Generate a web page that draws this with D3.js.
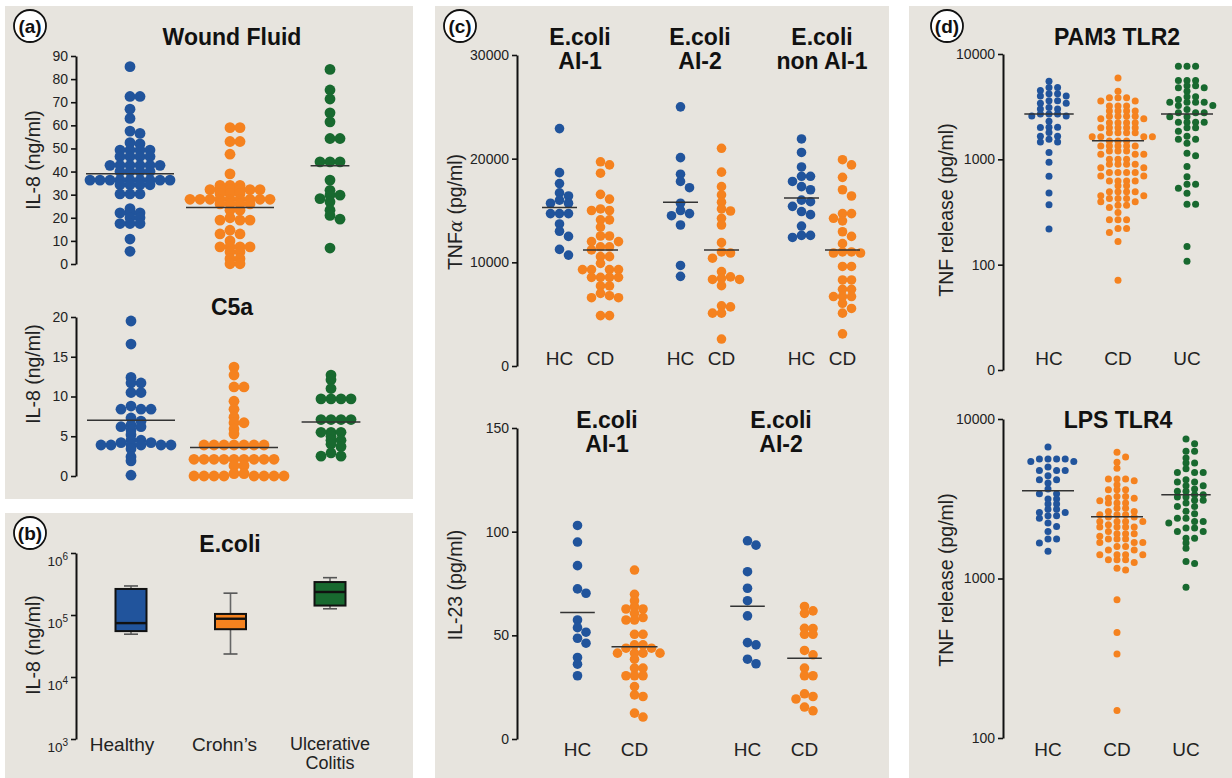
<!DOCTYPE html>
<html><head><meta charset="utf-8">
<script src="https://cdn.jsdelivr.net/npm/d3@7"></script>
<style>body{margin:0;background:#fff;} svg{display:block;font-family:"Liberation Sans",Arial,sans-serif;}</style>
</head><body><svg id="c" width="1232" height="778"></svg>
<script>
// ---------- DATA ----------
const groupNames = ["HC", "CD", "UC"];
// (a) Wound fluid IL-8 (ng/ml)
const woundTicks = [0,10,20,30,40,50,60,70,80,90];
const woundHC = [85.4,72.5,72.5,67,63,57.5,56.5,52.5,52,49.3,49.3,49.3,49.3,46.5,46.5,46.5,46.5,42.7,42.7,42.7,42.7,42.7,42.7,40,40,40,40,36.3,36.3,36.3,36.3,36.3,36.3,36.3,36.3,36.3,34.3,34.3,34.3,34.3,30.3,30.3,30.3,24,22.1,22.1,22.1,20,20,17.5,17.5,17.5,10.8,5.5];
const woundCD = [59,59,53,53,47.5,39,34,34,34,32.2,32.2,32.2,32.2,32.2,32.2,30.5,30.5,30.5,28,28,28,28,28,28,28,28,28,26,26,26,26,23.3,23.3,20,19,19,19,14.6,13,13,10,7.4,7.4,7.4,7.4,5.2,5.2,2.3,2.3,0.1,0.1];
const woundUC = [84.2,75.3,71.4,65.4,61.5,54.3,54.3,44.2,44.2,44.2,36.3,31.9,29.8,29.8,28.3,26.9,23.3,21,19.4,6.9];
const woundMedians = [39,24.5,42.5];
// (a) C5a IL-8 (ng/ml)
const c5aTicks = [0,5,10,15,20];
const c5aHC = [19.5,16.6,12.4,11.7,11.7,10.5,10.5,8.8,8.4,8.4,8.4,7.3,6.9,6.4,6.2,6.2,5.8,5.2,4.5,4.5,4.2,4.2,3.9,3.9,3.9,3.9,3.9,3.9,3.4,2.4,1.9,0.1];
const c5aCD = [13.7,12.7,11.2,11.2,9.4,8.4,7.4,6.7,6.7,5.9,5.3,3.9,3.9,3.9,3.9,3.9,3.9,3.9,2.1,2.1,2.1,2.1,2.1,2.1,2.1,2.1,2.1,1.3,1.3,0.3,0.3,0,0,0,0,0,0,0,0];
const c5aUC = [12.7,12.1,11,9.7,9.7,9.7,9.7,7.1,7.1,7.1,7.1,5.5,5.5,5.5,5,4.5,4.5,4,3.7,2.9,2.5,2.5];
const c5aMedians = [7,3.6,6.8];
// (b) E.coli box plot IL-8 (ng/ml)
const boxCategories = ["Healthy","Crohn\u2019s","Ulcerative Colitis"];
const boxTicks = [1e3,1e4,1e5,1e6];
const boxMin = [49000,23500,126000];
const boxQ1 = [55000,59000,142000];
const boxMedian = [74000,87000,235000];
const boxQ3 = [263000,104000,340000];
const boxMax = [294000,225000,400000];
// (c) TNFα (pg/ml)
const tnfPanels = ["E.coli|AI-1","E.coli|AI-2","E.coli|non AI-1"];
const tnfTicks = [0,10000,20000,30000];
const tnfAI1HC = [22900,18650,17600,16700,16400,16000,15700,15700,14700,14700,14700,13700,13000,12500,11250,10700];
const tnfAI1CD = [19700,19400,18600,16560,16100,15150,15000,15000,14100,14100,13400,12540,12540,12000,12000,11500,11500,11200,10550,10550,9900,9300,9300,9300,9300,8550,8550,8550,8550,7720,7720,7010,6780,6590,6590,4860,4860];
const tnfAI2HC = [25000,20100,18500,17800,17200,15700,15000,14700,14500,13600,9700,8650];
const tnfAI2CD = [21000,18700,17300,16500,15800,15150,14950,14250,13600,11900,11000,10900,10400,9100,8600,8450,8350,8350,7750,5800,5700,5100,5100,2600];
const tnfNonHC = [21900,20600,19200,18300,18300,17800,17300,17000,16000,15850,15400,14900,14600,13500,12600,12600,12400];
const tnfNonCD = [19900,19400,18200,17000,16400,14700,14700,14250,14000,12950,12500,11800,11000,11000,10900,10900,9600,9600,8300,8300,7400,7400,6700,6700,6700,6050,5550,5100,3100];
const tnfMedians = [15300,11200,15800,11200,16200,11200];
// (c) IL-23 (pg/ml)
const il23Panels = ["E.coli|AI-1","E.coli|AI-2"];
const il23Ticks = [0,50,100,150];
const il23AI1HC = [103,95,83.6,72.4,70.3,57.4,53.7,51.5,48.6,46.2,39.3,36.1,30.5];
const il23AI1CD = [81.5,69.8,66.7,63.8,62.7,62.7,60.6,58.6,57.4,57.4,50.5,50.5,45.4,45.4,43.8,43.8,41.4,41.4,41.4,41.4,38.5,34.2,34.2,30.5,30.5,30.5,25.3,21.3,20.5,12.5,10.6];
const il23AI2HC = [95.6,93.5,80.7,72.7,66.7,59.4,46.5,45.4,38.5,36.3];
const il23AI2CD = [63.9,61.8,60.6,53.4,53.3,50.5,50.5,42.7,40.6,34.2,30.5,30.5,21.8,20.5,19.3,15.4,13.6];
const il23Medians = [61,44.5,64,39];
// (d) PAM3 TLR2, TNF release (pg/ml)
const pamTickValues = [10,100,1000,10000];
const pamTickLabels = ["0","100","1000","10000"];
const pamHC = [5510,4800,4800,4500,4200,4200,4000,4000,3600,3600,3400,3400,3100,3000,3000,2700,2700,2700,2580,2580,2300,2020,2020,2000,1800,1660,1660,1550,1460,1460,1160,940,690,480,370,218];
const pamCD = [5930,4440,3840,3840,3840,3570,3570,3200,3200,3200,2870,2870,2870,2870,2570,2570,2570,2570,2430,2430,2220,2220,2220,2220,1990,1990,1990,1990,1990,1790,1790,1790,1790,1640,1640,1640,1640,1490,1490,1490,1340,1340,1340,1340,1340,1200,1200,1200,1115,1115,1115,1000,1000,1000,897,897,897,897,834,834,748,748,748,748,695,695,623,623,623,623,560,560,491,491,491,491,450,450,425,425,425,395,395,367,367,349,313,267,267,267,221,221,202,166,71];
const pamUC = [7640,7640,7640,5600,5600,5600,5000,5000,4770,4770,4440,3920,3920,3700,3490,3490,3490,3490,3250,3250,2970,2770,2770,2770,2540,2540,2250,2250,2250,2250,1990,1990,1850,1660,1550,1550,1420,1140,1080,853,685,580,580,532,477,375,375,149,108];
const pamMedians = [2700,1500,2700];
// (d) LPS TLR4
const lpsTickValues = [100,1000,10000];
const lpsHC = [6670,5610,5610,5610,5610,5420,5420,5000,4760,4760,4760,4410,4160,4160,3970,3640,3400,3400,3150,3150,2930,2930,2720,2720,2590,2590,2470,2470,2390,2230,2120,1970,1770,1770,1670,1480];
const lpsCD = [6180,5780,5350,4920,4200,4200,4200,4100,3870,3600,3600,3600,3270,3270,3190,3190,3070,2970,2970,2970,2760,2760,2630,2630,2510,2510,2510,2430,2430,2280,2280,2280,2280,2170,2100,2100,2100,2100,1970,1910,1910,1910,1840,1770,1770,1770,1680,1680,1680,1590,1590,1510,1510,1410,1410,1410,1410,1310,1310,1310,1260,1160,1130,735,459,336,149];
const lpsUC = [7490,7000,6270,6270,5690,5290,5290,4880,4620,4620,4620,4160,4030,4030,3820,3820,3640,3520,3520,3350,3350,3240,3240,3090,3090,2970,2830,2830,2640,2550,2390,2390,2280,2280,2230,2070,2070,1970,1970,1790,1790,1670,1550,1280,1240,880];
const lpsMedians = [3550,2440,3350];

// ---------- DRAWING ----------
const svg = d3.select("#c");
const BG = "#e7e4de";
const COL = {HC:"#21549c", CD:"#f5821f", UC:"#18692f"};
const FONT = "'Liberation Sans', Arial, sans-serif";

function panel(x,y,w,h){ svg.append("rect").attr("x",x).attr("y",y).attr("width",w).attr("height",h).attr("fill",BG); }
panel(5,6,408,493); panel(5,513,408,265); panel(435,6,454,772); panel(909,6,323,772);

function tag(cx,cy,t){
  const g = svg.append("g");
  g.append("circle").attr("cx",cx).attr("cy",cy).attr("r",16).attr("fill","#fff").attr("stroke","#111").attr("stroke-width",1.8);
  g.append("text").attr("x",cx).attr("y",cy).attr("dy","0.36em").attr("text-anchor","middle")
    .attr("font-weight","bold").attr("font-size",19).attr("fill","#111").text(t);
}
function title(x,y,lines){
  lines.forEach((l,i)=> svg.append("text").attr("x",x).attr("y",y+i*24).attr("text-anchor","middle")
    .attr("font-weight","bold").attr("font-size",23).attr("fill","#111").text(l));
}
function ylabel(x,y,t){
  return svg.append("text").attr("transform",`translate(${x},${y}) rotate(-90)`).attr("text-anchor","middle")
    .attr("font-size",19.5).attr("fill","#222").text(t);
}
function catLabel(x,y,t,fs){
  svg.append("text").attr("x",x).attr("y",y).attr("text-anchor","middle").attr("font-size",fs||19).attr("fill","#222").text(t);
}
function yAxis(x, scale, ticks, fmt){
  const g = svg.append("g").attr("transform",`translate(${x},0)`)
    .call(d3.axisLeft(scale).tickValues(ticks).tickFormat(fmt || (d=>d)).tickSize(5).tickSizeOuter(0).tickPadding(3));
  g.select(".domain").attr("stroke","#111").attr("stroke-width",2);
  g.selectAll(".tick line").attr("stroke","#111").attr("stroke-width",1.6);
  g.selectAll(".tick text").attr("font-size",14).attr("fill","#222").attr("font-family",FONT);
  return g;
}
// deterministic column beeswarm: each dot goes to the nearest free column
function swarm(values, y, cx, step, minDy){
  const pts = values.map(v=>({v, y:y(v)})).sort((a,b)=>a.y-b.y);
  const placed = [];
  for (const p of pts){
    for (let i=0;;i++){
      const k = i===0 ? 0 : (i%2===1 ? (i+1)/2 : -i/2);
      const x = cx + k*step;
      if (!placed.some(q=>Math.abs(q.x-x)<step*0.5 && Math.abs(q.y-p.y)<minDy)){ p.x=x; break; }
    }
    placed.push(p);
  }
  return placed;
}
function dotGroup(values, y, cx, color, median, opt){
  const pts = swarm(values, y, cx, opt.step, opt.minDy);
  svg.append("g").selectAll("circle").data(pts).join("circle")
    .attr("cx",d=>d.x).attr("cy",d=>d.y).attr("r",opt.r).attr("fill",color);
  const ext = d3.max(pts,d=>Math.abs(d.x-cx));
  const half = Math.min(opt.half, ext + opt.r + 4);
  svg.append("line").attr("x1",cx-half).attr("x2",cx+half).attr("y1",y(median)).attr("y2",y(median))
    .attr("stroke","#333").attr("stroke-width",1.5);
}

// ===== Panel (a) =====
tag(30,26,"(a)");
{
  const x = d3.scalePoint().domain(groupNames).range([130,330]);
  const y = d3.scaleLinear().domain([0,90]).range([264,56]);
  yAxis(76, y, woundTicks);
  title(232,45,["Wound Fluid"]);
  ylabel(40,160,"IL-8 (ng/ml)");
  const opt = {step:10, r:5.4, minDy:3.8, half:44};
  [woundHC,woundCD,woundUC].forEach((vals,i)=>dotGroup(vals,y,x(groupNames[i]),COL[groupNames[i]],woundMedians[i],opt));
}
{
  const x = d3.scalePoint().domain(groupNames).range([131,331]);
  const y = d3.scaleLinear().domain([0,20]).range([476,317]);
  yAxis(76, y, c5aTicks);
  title(232,315,["C5a"]);
  ylabel(40,374,"IL-8 (ng/ml)");
  const opt = {step:10, r:5.4, minDy:3.8, half:44};
  [c5aHC,c5aCD,c5aUC].forEach((vals,i)=>dotGroup(vals,y,x(groupNames[i])+(i===1?3:0),COL[groupNames[i]],c5aMedians[i],opt));
}

// ===== Panel (b) =====
tag(30,533,"(b)");
{
  const x = d3.scalePoint().domain(boxCategories).range([131,330]);
  const y = d3.scaleLog().domain([1e3,1e6]).range([739,553]);
  const g = yAxis(76, y, boxTicks, ()=> "");
  g.selectAll(".tick text").attr("dy","0.95em").attr("font-size",13.5).each(function(d){
    const t = d3.select(this);
    t.append("tspan").text("10");
    t.append("tspan").attr("dy","-0.62em").attr("font-size",10).text(Math.round(Math.log10(d)));
  });
  title(230,552,["E.coli"]);
  ylabel(40,645,"IL-8 (ng/ml)");
  const bw = 31, cap = 14;
  boxCategories.forEach((c,i)=>{
    const cx = x(c), col = COL[groupNames[i]];
    const gg = svg.append("g");
    gg.append("line").attr("x1",cx).attr("x2",cx).attr("y1",y(boxMin[i])).attr("y2",y(boxMax[i])).attr("stroke","#666").attr("stroke-width",1.6);
    [boxMin[i],boxMax[i]].forEach(v=> gg.append("line").attr("x1",cx-cap/2).attr("x2",cx+cap/2).attr("y1",y(v)).attr("y2",y(v)).attr("stroke","#555").attr("stroke-width",1.6));
    gg.append("rect").attr("x",cx-bw/2).attr("width",bw).attr("y",y(boxQ3[i])).attr("height",y(boxQ1[i])-y(boxQ3[i]))
      .attr("fill",col).attr("stroke","#111").attr("stroke-width",2);
    gg.append("line").attr("x1",cx-bw/2).attr("x2",cx+bw/2).attr("y1",y(boxMedian[i])).attr("y2",y(boxMedian[i])).attr("stroke","#111").attr("stroke-width",2.4);
  });
  const labDx = [-9,-6,0];
  boxCategories.forEach((c,i)=>{
    if (i===2){ catLabel(x(c)+labDx[i],750,"Ulcerative",18); catLabel(x(c)+labDx[i],769,"Colitis",18); }
    else catLabel(x(c)+labDx[i],751,c);
  });
}

// ===== Panel (c) =====
tag(460,26,"(c)");
{
  const outer = d3.scalePoint().domain(tnfPanels).range([580,822]);
  const inner = d3.scalePoint().domain(["HC","CD"]).range([-20.5,20.5]);
  const y = d3.scaleLinear().domain([0,30000]).range([366,55]);
  yAxis(517, y, tnfTicks);
  const yl = ylabel(462,212,"TNF");
  yl.append("tspan").attr("font-style","italic").attr("font-family","'DejaVu Serif', serif").attr("font-size",18).text("\u03b1");
  yl.append("tspan").text(" (pg/ml)");
  const sets = [[tnfAI1HC,tnfAI1CD],[tnfAI2HC,tnfAI2CD],[tnfNonHC,tnfNonCD]];
  const opt = {step:9, r:4.8, minDy:6.5, half:17.5};
  tnfPanels.forEach((p,i)=>{
    title(outer(p)+(i===1?-1:0),45,p.split("|"));
    ["HC","CD"].forEach((gname,j)=>{
      const cx = outer(p)+inner(gname);
      dotGroup(sets[i][j], y, cx, COL[gname], tnfMedians[i*2+j], opt);
      catLabel(cx,365,gname);
    });
  });
}
{
  const outer = d3.scalePoint().domain(il23Panels).range([606,776]);
  const inner = d3.scalePoint().domain(["HC","CD"]).range([-28.5,28.5]);
  const y = d3.scaleLinear().domain([0,150]).range([739,428]);
  yAxis(517, y, il23Ticks);
  ylabel(462,585,"IL-23 (pg/ml)");
  const sets = [[il23AI1HC,il23AI1CD],[il23AI2HC,il23AI2CD]];
  const opt = {step:8.5, r:4.8, minDy:5.5, half:23};
  il23Panels.forEach((p,i)=>{
    title(outer(p)+(i===1?5:1),428,p.split("|"));
    ["HC","CD"].forEach((gname,j)=>{
      const cx = outer(p)+inner(gname);
      dotGroup(sets[i][j], y, cx, COL[gname], il23Medians[i*2+j], opt);
      catLabel(cx,756,gname);
    });
  });
}

// ===== Panel (d) =====
tag(947,26,"(d)");
{
  const x = d3.scalePoint().domain(groupNames).range([1049,1187]);
  const y = d3.scaleLog().domain([10,10000]).range([370,54]);
  yAxis(1003, y, pamTickValues, d=>pamTickLabels[pamTickValues.indexOf(d)]);
  title(1117,45,["PAM3 TLR2"]);
  ylabel(953,210,"TNF release (pg/ml)");
  const opt = {step:8.6, r:3.5, minDy:4.8, half:26};
  [pamHC,pamCD,pamUC].forEach((vals,i)=>{
    dotGroup(vals,y,x(groupNames[i]),COL[groupNames[i]],pamMedians[i],opt);
    catLabel(x(groupNames[i]),365,groupNames[i]);
  });
}
{
  const x = d3.scalePoint().domain(groupNames).range([1048,1186]);
  const y = d3.scaleLog().domain([100,10000]).range([738,419]);
  yAxis(1003, y, lpsTickValues, d=>d);
  title(1118,428,["LPS TLR4"]);
  ylabel(953,580,"TNF release (pg/ml)");
  const opt = {step:8.6, r:3.5, minDy:4.8, half:26};
  [lpsHC,lpsCD,lpsUC].forEach((vals,i)=>{
    dotGroup(vals,y,x(groupNames[i]),COL[groupNames[i]],lpsMedians[i],opt);
    catLabel(x(groupNames[i]),756,groupNames[i]);
  });
}
</script>
</body></html>
